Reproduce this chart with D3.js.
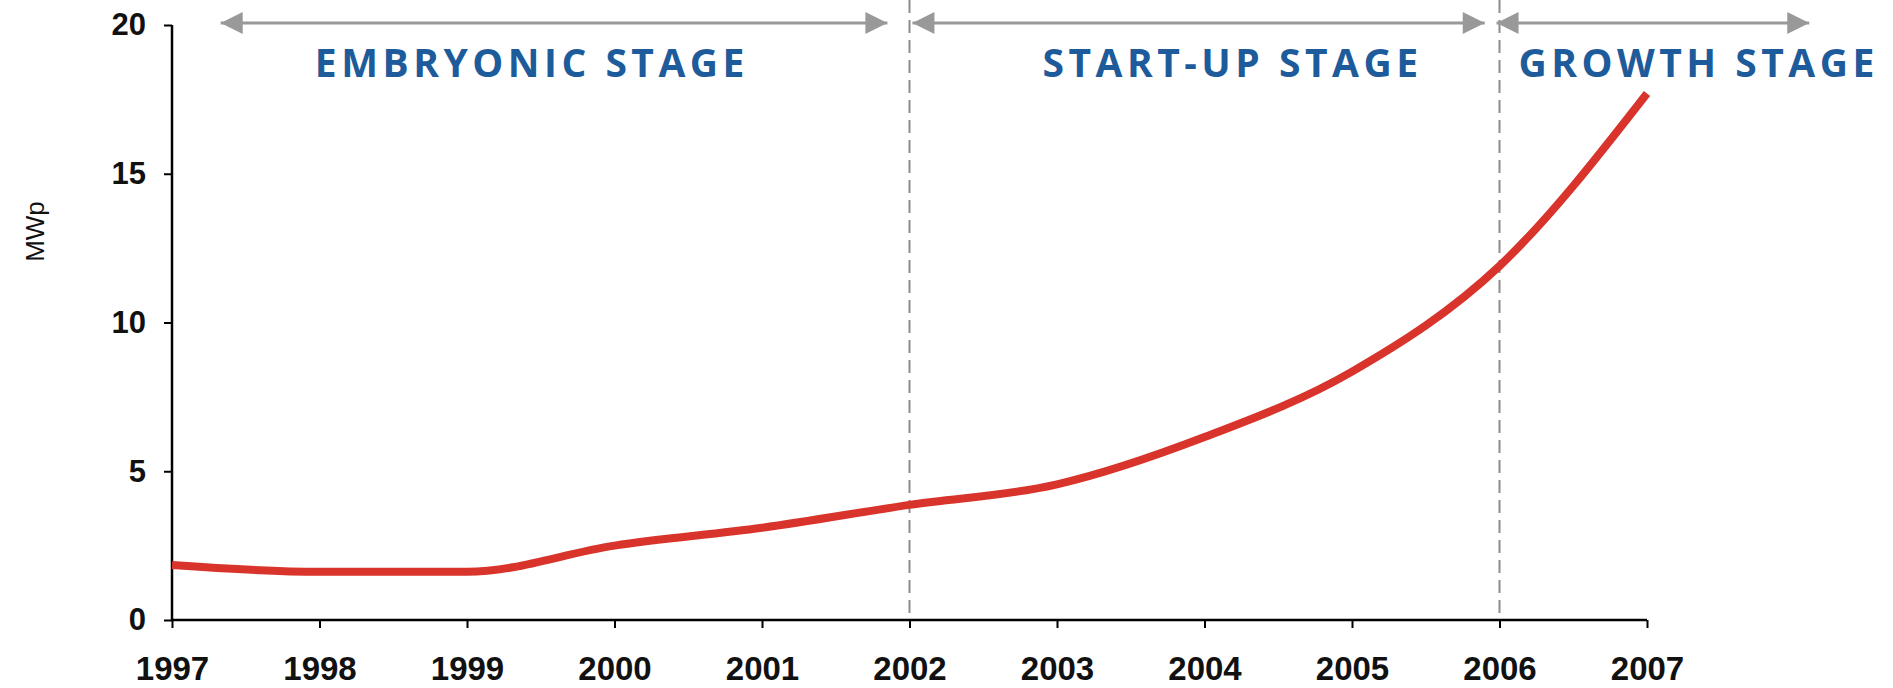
<!DOCTYPE html>
<html>
<head>
<meta charset="utf-8">
<script src="https://cdn.jsdelivr.net/npm/d3@7"></script>
<style>
  body { margin: 0; background: #fff; }
  svg { display: block; }
</style>
</head>
<body>
<div id="chart"></div>
<script>
// data
const years = [1997, 1998, 1999, 2000, 2001, 2002, 2003, 2004, 2005, 2006, 2007];
const mwp = [1.85, 1.62, 1.62, 2.5, 3.1, 3.87, 4.56, 6.15, 8.35, 11.9, 17.7];
const yTicks = [0, 5, 10, 15, 20];
const stageBreaks = [2002, 2006];
const stageNames = ['EMBRYONIC STAGE', 'START-UP STAGE', 'GROWTH STAGE'];
const stageFrom = [1997.33, 2002.02, 2005.98];
const stageTo = [2001.85, 2005.9, 2008.1];
const stageLabelAt = [1999.44, 2004.19, 2007.35];

const width = 1893;
const height = 688;

const x = d3.scaleLinear()
    .domain([1997, 2007])
    .range([172, 1647]);

const y = d3.scaleLinear()
    .domain([0, 20])
    .range([620, 25]);

const svg = d3.select('#chart').append('svg')
    .attr('width', width)
    .attr('height', height)
    .attr('viewBox', [0, 0, width, height]);

// dashed stage separators
svg.append('g')
    .selectAll('line')
    .data(stageBreaks)
    .join('line')
    .attr('x1', d => x(d))
    .attr('x2', d => x(d))
    .attr('y1', 0)
    .attr('y2', y(0))
    .attr('stroke', '#8c8c8c')
    .attr('stroke-width', 2)
    .attr('stroke-dasharray', '13,7');

// arrow heads
const defs = svg.append('defs');
defs.append('marker')
    .attr('id', 'head')
    .attr('viewBox', '0 0 10 10')
    .attr('refX', 10)
    .attr('refY', 5)
    .attr('markerUnits', 'userSpaceOnUse')
    .attr('markerWidth', 24)
    .attr('markerHeight', 22)
    .attr('orient', 'auto-start-reverse')
    .append('path')
    .attr('d', 'M0,0L10,5L0,10Z')
    .attr('fill', '#999');

const stages = stageNames.map((name, i) => ({
    name, from: stageFrom[i], to: stageTo[i], at: stageLabelAt[i]
}));

svg.append('g')
    .selectAll('line')
    .data(stages)
    .join('line')
    .attr('x1', d => x(d.from))
    .attr('x2', d => x(d.to))
    .attr('y1', 23)
    .attr('y2', 23)
    .attr('stroke', '#999')
    .attr('stroke-width', 3)
    .attr('marker-start', 'url(#head)')
    .attr('marker-end', 'url(#head)');

svg.append('g')
    .selectAll('text')
    .data(stages)
    .join('text')
    .attr('x', d => x(d.at))
    .attr('y', 77)
    .attr('text-anchor', 'middle')
    .attr('fill', '#1d5b9b')
    .style('font-family', '"Open Sans", sans-serif')
    .style('font-weight', 'bold')
    .style('font-size', '39px')
    .style('letter-spacing', '4.5px')
    .text(d => d.name);

// axes
svg.append('g')
    .attr('transform', `translate(0,${y(0)})`)
    .call(d3.axisBottom(x).tickValues(years).tickFormat(d3.format('d')).tickSize(8).tickPadding(29))
    .call(g => g.select('.domain').attr('stroke-width', 2.5).attr('d', `M${x(1997)},0H${x(2007)}`))
    .call(g => g.selectAll('.tick line').attr('stroke-width', 2))
    .call(g => g.selectAll('text')
        .style('font-family', '"Liberation Sans", Arial, sans-serif')
        .style('font-weight', 'bold')
        .style('font-size', '33px')
        .attr('fill', '#111'));

svg.append('g')
    .attr('transform', `translate(${x(1997)},0)`)
    .call(d3.axisLeft(y).tickValues(yTicks).tickSize(8).tickPadding(18))
    .call(g => g.select('.domain').attr('stroke-width', 2.5).attr('d', `M0,${y(20)}V${y(0)}`))
    .call(g => g.selectAll('.tick line').attr('stroke-width', 2))
    .call(g => g.selectAll('text')
        .style('font-family', '"Liberation Sans", Arial, sans-serif')
        .style('font-weight', 'bold')
        .style('font-size', '31px')
        .attr('fill', '#111'));

svg.append('text')
    .attr('transform', `translate(44,${(y(0) + y(20)) / 2 - 91}) rotate(-90)`)
    .attr('text-anchor', 'middle')
    .style('font-family', '"Liberation Sans", Arial, sans-serif')
    .style('font-size', '26px')
    .attr('fill', '#111')
    .text('MWp');

// the series
const line = d3.line()
    .x((d, i) => x(years[i]))
    .y(d => y(d))
    .curve(d3.curveMonotoneX);

svg.append('path')
    .datum(mwp)
    .attr('fill', 'none')
    .attr('stroke', '#d9342b')
    .attr('stroke-width', 8)
    .attr('stroke-linejoin', 'round')
    .attr('d', line);
</script>
</body>
</html>
